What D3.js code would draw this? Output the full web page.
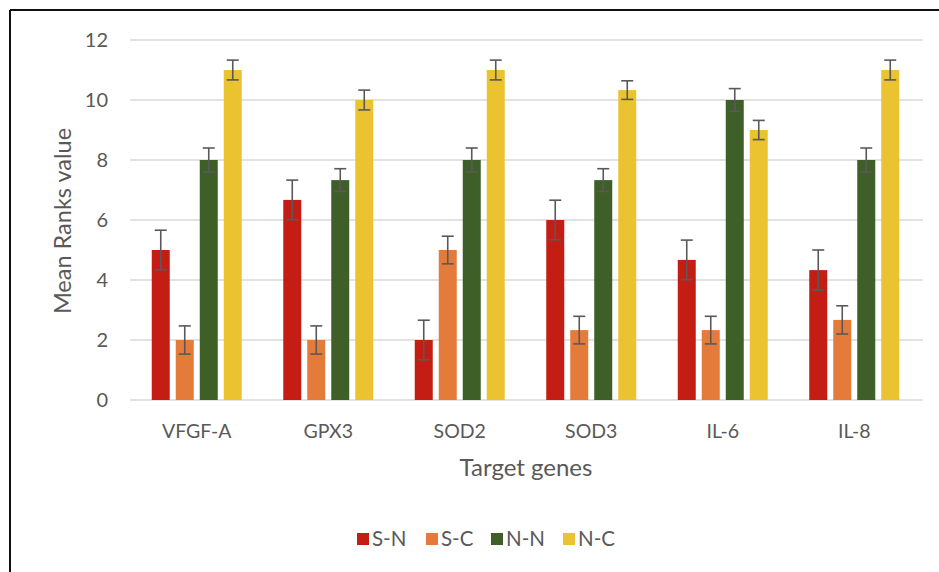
<!DOCTYPE html>
<html>
<head>
<meta charset="utf-8">
<script src="https://cdn.jsdelivr.net/npm/d3@7"></script>
<style>
  body { margin: 0; background: #fff; }
  svg { display: block; font-family: Lato, "Open Sans", sans-serif; }
</style>
</head>
<body>
<svg id="chart" width="939" height="572"></svg>
<script>
// chart values
let genes = ['VFGF-A', 'GPX3', 'SOD2', 'SOD3', 'IL-6', 'IL-8'];
let groups = ['S-N', 'S-C', 'N-N', 'N-C'];
let colors = ['#c41e14', '#e57b3a', '#3e5f28', '#ebc230'];

let meanSN = [5, 6.67, 2, 6, 4.67, 4.33];
let meanSC = [2, 2, 5, 2.33, 2.33, 2.67];
let meanNN = [8, 7.33, 8, 7.33, 10, 8];
let meanNC = [11, 10, 11, 10.33, 9, 11];

let errSN = [0.66, 0.66, 0.66, 0.66, 0.66, 0.67];
let errSC = [0.47, 0.47, 0.46, 0.46, 0.46, 0.47];
let errNN = [0.4, 0.38, 0.4, 0.38, 0.38, 0.4];
let errNC = [0.33, 0.33, 0.33, 0.31, 0.32, 0.33];

let yTicks = [0, 2, 4, 6, 8, 10, 12];

let means = [meanSN, meanSC, meanNN, meanNC];
let errs = [errSN, errSC, errNN, errNC];

let rows = [];
genes.forEach((g, i) => {
  groups.forEach((s, j) => {
    rows.push({ gene: g, group: s, value: means[j][i], err: errs[j][i] });
  });
});

let svg = d3.select('#chart');
let textCol = '#595959';

// frame (top and left edges only, rest is cropped)
svg.append('line').attr('x1', 10).attr('x2', 939).attr('y1', 10).attr('y2', 10)
  .attr('stroke', '#111').attr('stroke-width', 2);
svg.append('line').attr('x1', 10).attr('x2', 10).attr('y1', 10).attr('y2', 572)
  .attr('stroke', '#111').attr('stroke-width', 2);

let x = d3.scaleBand().domain(genes).range([131, 920]);
let xs = d3.scaleBand().domain(groups).range([-45, 45]).paddingInner(0.25);
let y = d3.scaleLinear().domain([0, 12]).range([400, 40]);
let col = d3.scaleOrdinal().domain(groups).range(colors);

// gridlines
svg.append('g')
  .selectAll('line')
  .data(yTicks)
  .enter()
  .append('line')
  .attr('x1', 130)
  .attr('x2', 923)
  .attr('y1', d => y(d))
  .attr('y2', d => y(d))
  .attr('stroke', '#d9d9d9')
  .attr('stroke-width', 1.3);

// y tick labels
let yAxis = svg.append('g')
  .attr('transform', 'translate(108,0)')
  .call(d3.axisLeft(y).tickValues(yTicks).tickSize(0).tickPadding(0));
yAxis.select('.domain').remove();
yAxis.selectAll('text')
  .attr('fill', textCol)
  .style('font-size', '20px')
  .style('font-family', 'Lato, sans-serif');

// x tick labels
let xAxis = svg.append('g')
  .attr('transform', 'translate(0,424)')
  .call(d3.axisBottom(x).tickSize(0).tickPadding(0));
xAxis.select('.domain').remove();
xAxis.selectAll('text')
  .attr('fill', textCol)
  .attr('dy', '0.71em')
  .style('font-size', '19.5px')
  .style('font-family', 'Lato, sans-serif');

// bars
svg.append('g')
  .selectAll('rect')
  .data(rows)
  .enter()
  .append('rect')
  .attr('x', d => x(d.gene) + x.bandwidth() / 2 + xs(d.group))
  .attr('y', d => y(d.value))
  .attr('width', xs.bandwidth())
  .attr('height', d => y(0) - y(d.value))
  .attr('fill', d => col(d.group));

// error bars
let eb = svg.append('g')
  .attr('stroke', '#595959')
  .attr('stroke-width', 1.6)
  .selectAll('g')
  .data(rows)
  .enter()
  .append('g')
  .attr('transform', d => `translate(${x(d.gene) + x.bandwidth() / 2 + xs(d.group) + xs.bandwidth() / 2},0)`);
eb.append('line')
  .attr('y1', d => y(d.value + d.err))
  .attr('y2', d => y(d.value - d.err));
eb.append('line')
  .attr('x1', -6).attr('x2', 6)
  .attr('y1', d => y(d.value + d.err))
  .attr('y2', d => y(d.value + d.err));
eb.append('line')
  .attr('x1', -6).attr('x2', 6)
  .attr('y1', d => y(d.value - d.err))
  .attr('y2', d => y(d.value - d.err));

// axis titles
svg.append('text')
  .attr('transform', 'translate(71,221) rotate(-90)')
  .attr('text-anchor', 'middle')
  .attr('fill', textCol)
  .style('font-size', '23.5px')
  .text('Mean Ranks value');

svg.append('text')
  .attr('x', 526)
  .attr('y', 476)
  .attr('text-anchor', 'middle')
  .attr('fill', textCol)
  .style('font-size', '24px')
  .text('Target genes');

// legend
let legendX = [357, 426, 491, 563];
let leg = svg.append('g')
  .selectAll('g')
  .data(groups)
  .enter()
  .append('g')
  .attr('transform', (d, i) => `translate(${legendX[i]},533)`);
leg.append('rect')
  .attr('width', 12)
  .attr('height', 12)
  .attr('fill', d => col(d));
leg.append('text')
  .attr('x', 15)
  .attr('y', 13)
  .attr('fill', textCol)
  .style('font-size', '20.5px')
  .text(d => d);
</script>
</body>
</html>
